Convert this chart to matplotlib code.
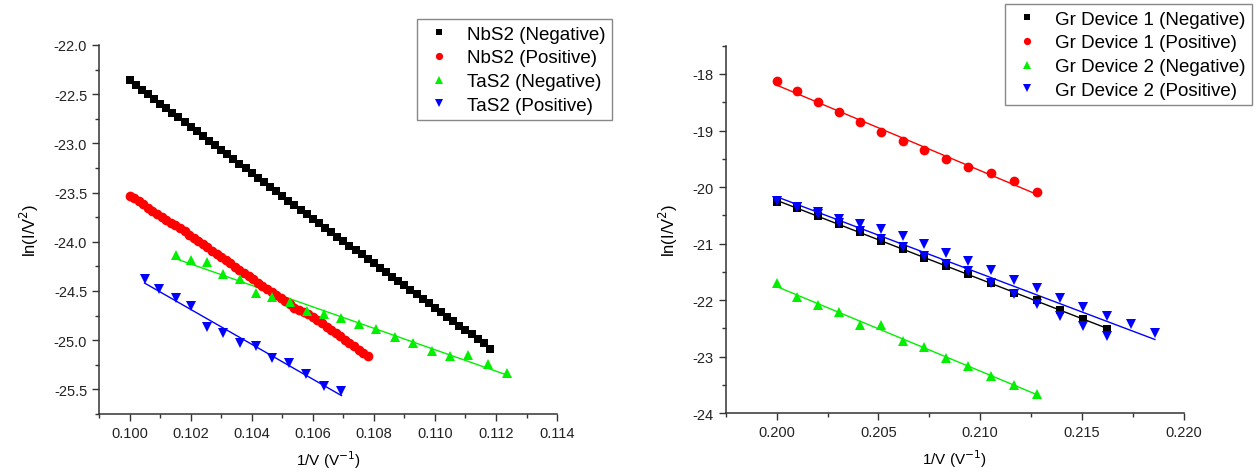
import numpy as np
import matplotlib
matplotlib.use("Agg")
import matplotlib.pyplot as plt
from matplotlib.ticker import MultipleLocator, FormatStrFormatter

plt.rcParams['font.family'] = ['Liberation Sans', 'DejaVu Sans']
plt.rcParams['axes.unicode_minus'] = False

# --------------------------------------------------------
# Left panel data: NbS2 / TaS2
# --------------------------------------------------------
nbs2_neg_x = [0.1000, 0.1002, 0.1004, 0.1006, 0.1008, 0.1010, 0.1012, 0.1014, 0.1016, 0.1018,
              0.1020, 0.1022, 0.1024, 0.1026, 0.1028, 0.1030, 0.1032, 0.1034, 0.1036, 0.1038,
              0.1040, 0.1042, 0.1044, 0.1046, 0.1048, 0.1050, 0.1052, 0.1054, 0.1056, 0.1058,
              0.1060, 0.1062, 0.1064, 0.1066, 0.1068, 0.1070, 0.1072, 0.1074, 0.1076, 0.1078,
              0.1080, 0.1082, 0.1084, 0.1086, 0.1088, 0.1090, 0.1092, 0.1094, 0.1096, 0.1098,
              0.1100, 0.1102, 0.1104, 0.1106, 0.1108, 0.1110, 0.1112, 0.1114, 0.1116, 0.1118]
nbs2_neg_y = [-22.360, -22.407, -22.454, -22.501, -22.548, -22.595, -22.642, -22.689, -22.736, -22.783,
              -22.830, -22.877, -22.924, -22.971, -23.018, -23.065, -23.112, -23.159, -23.206, -23.253,
              -23.300, -23.347, -23.394, -23.441, -23.488, -23.535, -23.582, -23.629, -23.676, -23.721,
              -23.766, -23.812, -23.857, -23.902, -23.947, -23.992, -24.038, -24.083, -24.128, -24.173,
              -24.218, -24.264, -24.309, -24.354, -24.399, -24.444, -24.490, -24.535, -24.580, -24.625,
              -24.670, -24.716, -24.761, -24.806, -24.851, -24.896, -24.942, -24.987, -25.032, -25.090]

nbs2_pos_x = [0.10000, 0.10015, 0.10030, 0.10045, 0.10060, 0.10075, 0.10090, 0.10105, 0.10120, 0.10135,
              0.10150, 0.10165, 0.10180, 0.10195, 0.10210, 0.10225, 0.10240, 0.10255, 0.10270, 0.10285,
              0.10300, 0.10315, 0.10330, 0.10345, 0.10360, 0.10375, 0.10390, 0.10405, 0.10420, 0.10435,
              0.10450, 0.10465, 0.10480, 0.10495, 0.10510, 0.10525, 0.10540, 0.10555, 0.10570, 0.10585,
              0.10600, 0.10615, 0.10630, 0.10645, 0.10660, 0.10675, 0.10690, 0.10705, 0.10720, 0.10735,
              0.10750, 0.10765, 0.10780]
nbs2_pos_y = [-23.530, -23.560, -23.590, -23.621, -23.652, -23.683, -23.714, -23.746, -23.778, -23.805,
              -23.825, -23.858, -23.895, -23.928, -23.960, -23.992, -24.025, -24.057, -24.090, -24.122,
              -24.155, -24.187, -24.220, -24.252, -24.285, -24.317, -24.350, -24.382, -24.414, -24.446,
              -24.478, -24.510, -24.542, -24.574, -24.606, -24.637, -24.668, -24.695, -24.712, -24.735,
              -24.765, -24.797, -24.830, -24.862, -24.895, -24.928, -24.961, -24.994, -25.027, -25.060,
              -25.095, -25.130, -25.165]

tas2_neg_x = [0.10151, 0.10202, 0.10253, 0.10306, 0.10361, 0.10413, 0.10468, 0.10525, 0.10580, 0.10636,
              0.10694, 0.10752, 0.10808, 0.10869, 0.10928, 0.10989, 0.11049, 0.11109, 0.11173, 0.11235]
tas2_neg_y = [-24.137, -24.188, -24.204, -24.323, -24.380, -24.525, -24.559, -24.610, -24.705, -24.735,
              -24.779, -24.840, -24.887, -24.964, -25.025, -25.106, -25.157, -25.151, -25.242, -25.337]

tas2_pos_x = [0.10049, 0.10098, 0.10151, 0.10202, 0.10253, 0.10306, 0.10361, 0.10415, 0.10468, 0.10522,
              0.10579, 0.10637, 0.10694]
tas2_pos_y = [-24.383, -24.475, -24.576, -24.650, -24.863, -24.931, -25.032, -25.056, -25.185, -25.235,
              -25.347, -25.466, -25.516]

left_labels = ["NbS2 (Negative)", "NbS2 (Positive)", "TaS2 (Negative)", "TaS2 (Positive)"]

# --------------------------------------------------------
# Right panel data: graphene devices
# --------------------------------------------------------
gr1_neg_x = [0.20000, 0.20101, 0.20202, 0.20305, 0.20408, 0.20513, 0.20619, 0.20725, 0.20833, 0.20942,
             0.21053, 0.21164, 0.21277, 0.21390, 0.21505, 0.21622]
gr1_neg_y = [-20.26, -20.37, -20.51, -20.66, -20.80, -20.95, -21.10, -21.25, -21.40, -21.54,
             -21.70, -21.87, -22.00, -22.17, -22.34, -22.52]

gr1_pos_x = [0.20000, 0.20101, 0.20202, 0.20305, 0.20408, 0.20513, 0.20619, 0.20725, 0.20833, 0.20942,
             0.21053, 0.21164, 0.21277]
gr1_pos_y = [-18.12, -18.30, -18.49, -18.67, -18.85, -19.03, -19.19, -19.35, -19.50, -19.64,
             -19.76, -19.89, -20.08]

gr2_neg_x = [0.20000, 0.20101, 0.20202, 0.20305, 0.20408, 0.20513, 0.20619, 0.20725, 0.20833, 0.20942,
             0.21053, 0.21164, 0.21277]
gr2_neg_y = [-21.70, -21.95, -22.09, -22.21, -22.44, -22.44, -22.72, -22.83, -23.03, -23.16,
             -23.35, -23.50, -23.66]

# two sweeps in the same series
gr2_pos_x = [0.20000, 0.20101, 0.20202, 0.20305, 0.20408, 0.20513, 0.20619, 0.20725, 0.20833, 0.20942,
             0.21053, 0.21164, 0.21277, 0.21390, 0.21505, 0.21622, 0.21739, 0.21858,
             0.20101, 0.20202, 0.20305, 0.20408, 0.20513, 0.20619, 0.20725, 0.20833, 0.20942,
             0.21053, 0.21164, 0.21277, 0.21390, 0.21505, 0.21622]
gr2_pos_y = [-20.245, -20.345, -20.45, -20.57, -20.66, -20.75, -20.875, -21.01, -21.16, -21.31,
             -21.47, -21.64, -21.78, -21.97, -22.12, -22.28, -22.43, -22.59,
             -20.35, -20.48, -20.63, -20.77, -20.92, -21.07, -21.22, -21.37, -21.49,
             -21.69, -21.90, -22.07, -22.28, -22.46, -22.64]

right_labels = ["Gr Device 1 (Negative)", "Gr Device 1 (Positive)",
                "Gr Device 2 (Negative)", "Gr Device 2 (Positive)"]

colors = ["#000000", "#ff0000", "#00f000", "#0000ff"]
markers = ["s", "o", "^", "v"]
legend_sizes = [4.4, 5.2, 5.8, 5.8]


def draw_panel(ax, series, labels, sizes):
    handles = []
    for (x, y), lab, c, m, ms in zip(series, labels, colors, markers, sizes):
        x = np.array(x)
        y = np.array(y)
        k, b = np.polyfit(x, y, 1)
        xf = np.array([x.min(), x.max()])
        ax.plot(xf, k * xf + b, color=c, lw=1.0, zorder=2)
        h, = ax.plot(x, y, m, color=c, ms=ms, mec=c, mew=0, label=lab, zorder=3)
        handles.append(h)
    for side in ["top", "right"]:
        ax.spines[side].set_visible(False)
    for side in ["left", "bottom"]:
        ax.spines[side].set_linewidth(1.1)
        ax.spines[side].set_color("#333333")
    ax.tick_params(which="major", direction="out", length=5, width=1.0, labelsize=10.5, colors="#333333",
                   labelcolor="#222222")
    ax.tick_params(which="minor", direction="out", length=3, width=1.0, colors="#333333")
    ax.set_xlabel("1/V (V$^{-1}$)", fontsize=11, labelpad=6)
    ax.set_ylabel("ln(I/V$^2$)", fontsize=12, labelpad=9)
    return handles


fig = plt.figure(figsize=(12.6, 4.77), dpi=100)

# --------------------------------------------------------
# Left panel
# --------------------------------------------------------
ax1 = fig.add_axes([0.0786, 0.130, 0.3635, 0.7736])
h1 = draw_panel(ax1,
                [(nbs2_neg_x, nbs2_neg_y), (nbs2_pos_x, nbs2_pos_y),
                 (tas2_neg_x, tas2_neg_y), (tas2_pos_x, tas2_pos_y)],
                left_labels, [5.4, 7.0, 7.2, 7.2])
ax1.set_xlim(0.099, 0.114)
ax1.set_ylim(-25.75, -22.0)
ax1.xaxis.set_major_locator(MultipleLocator(0.002))
ax1.xaxis.set_minor_locator(MultipleLocator(0.001))
ax1.xaxis.set_major_formatter(FormatStrFormatter("%.3f"))
ax1.yaxis.set_major_locator(MultipleLocator(0.5))
ax1.yaxis.set_minor_locator(MultipleLocator(0.25))
ax1.yaxis.set_major_formatter(FormatStrFormatter("%.1f"))

# --------------------------------------------------------
# Right panel
# --------------------------------------------------------
ax2 = fig.add_axes([0.576, 0.132, 0.3635, 0.770])
h2 = draw_panel(ax2,
                [(gr1_neg_x, gr1_neg_y), (gr1_pos_x, gr1_pos_y),
                 (gr2_neg_x, gr2_neg_y), (gr2_pos_x, gr2_pos_y)],
                right_labels, [5.8, 7.0, 7.5, 7.5])
ax2.set_xlim(0.1975, 0.220)
ax2.set_ylim(-24.0, -17.5)
ax2.xaxis.set_major_locator(MultipleLocator(0.005))
ax2.xaxis.set_minor_locator(MultipleLocator(0.0025))
ax2.xaxis.set_major_formatter(FormatStrFormatter("%.3f"))
ax2.yaxis.set_major_locator(MultipleLocator(1))
ax2.yaxis.set_minor_locator(MultipleLocator(0.5))
ax2.yaxis.set_major_formatter(FormatStrFormatter("%d"))

legend_kw = dict(loc="upper left", fontsize=13.5, frameon=True, fancybox=False,
                 edgecolor="#888888", framealpha=1, handlelength=1.6, handletextpad=0.7,
                 labelspacing=0.35, borderpad=0.35, borderaxespad=0)
leg1 = fig.legend(handles=h1, bbox_to_anchor=(0.331, 0.958), **legend_kw)
leg2 = fig.legend(handles=h2, bbox_to_anchor=(0.7976, 0.9895), **legend_kw)
for leg in (leg1, leg2):
    leg.get_frame().set_linewidth(1.0)
    for lh, s in zip(leg.legend_handles, legend_sizes):
        lh.set_markersize(s)

fig.savefig("out.png", dpi=100)
